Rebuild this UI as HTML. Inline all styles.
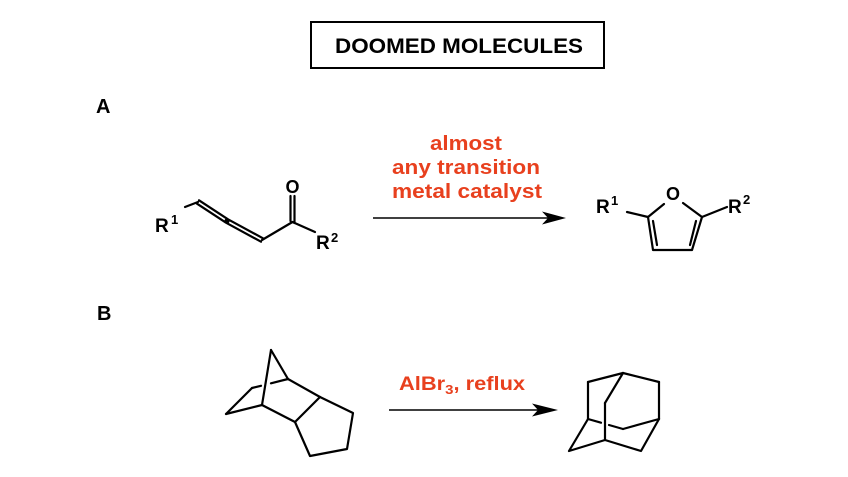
<!DOCTYPE html>
<html>
<head>
<meta charset="utf-8">
<style>
  html, body { margin:0; padding:0; background:#fff; }
  svg { display:block; }
  text { font-family: "Liberation Sans", Arial, sans-serif; font-weight: bold; }
</style>
</head>
<body>
<svg width="848" height="477" viewBox="0 0 848 477" xmlns="http://www.w3.org/2000/svg">
  <rect width="848" height="477" fill="#fff"/>

  <!-- Title box -->
  <rect x="311" y="22" width="293" height="46" fill="none" stroke="#000" stroke-width="2"/>
  <text x="335" y="53" font-size="21" textLength="248" lengthAdjust="spacingAndGlyphs" fill="#000">DOOMED MOLECULES</text>

  <!-- Section labels -->
  <text x="96" y="113" font-size="20" fill="#000">A</text>
  <text x="97" y="320" font-size="20" fill="#000">B</text>

  <g stroke="#000" stroke-width="2.2" fill="none" stroke-linecap="round" stroke-linejoin="round">
    <!-- Allenyl ketone -->
    <line x1="185" y1="207" x2="198" y2="202"/>
    <polyline points="199,200.3 228,219.3 263,238.3"/>
    <polyline points="197,203.7 226,222.7 261,241.7"/>
    <line x1="262" y1="240" x2="292.5" y2="222"/>
    <line x1="290.5" y1="196" x2="290.5" y2="221"/>
    <line x1="294.5" y1="196" x2="294.5" y2="223"/>
    <line x1="292.5" y1="222" x2="315" y2="232"/>

    <!-- Furan -->
    <line x1="627" y1="212" x2="648" y2="217"/>
    <line x1="648" y1="217" x2="664" y2="204"/>
    <line x1="683" y1="203" x2="702" y2="217"/>
    <line x1="702" y1="217" x2="727" y2="207"/>
    <polyline points="648,217 653,250 692,250 702,217"/>
    <line x1="653" y1="221" x2="657" y2="245"/>
    <line x1="690" y1="245" x2="696" y2="221"/>

    <!-- Tricyclic -->
    <line x1="271" y1="350" x2="262" y2="405"/>
    <line x1="271" y1="350" x2="288" y2="379"/>
    <line x1="288" y1="379" x2="271" y2="383.3"/>
    <line x1="261" y1="385.8" x2="252" y2="388"/>
    <line x1="252" y1="388" x2="226" y2="414"/>
    <line x1="226" y1="414" x2="262" y2="405"/>
    <line x1="262" y1="405" x2="295" y2="422"/>
    <line x1="288" y1="379" x2="320" y2="397"/>
    <line x1="320" y1="397" x2="295" y2="422"/>
    <polyline points="320,397 353,413 347,449 310,456 295,422"/>

    <!-- Adamantane -->
    <line x1="623" y1="373" x2="588" y2="382"/>
    <line x1="623" y1="373" x2="659" y2="382"/>
    <line x1="588" y1="382" x2="588" y2="419"/>
    <line x1="659" y1="382" x2="659" y2="419"/>
    <line x1="623" y1="373" x2="605" y2="403"/>
    <line x1="605" y1="403" x2="605" y2="440"/>
    <line x1="588" y1="419" x2="601" y2="422.7"/>
    <line x1="609" y1="425" x2="623" y2="429"/>
    <line x1="623" y1="429" x2="659" y2="419"/>
    <polyline points="588,419 569,451 605,440 641,451 659,419"/>
  </g>

  <!-- allene central carbon dot -->
  <circle cx="227" cy="221" r="2.6" fill="#000"/>

  <!-- Atom labels: allenyl ketone -->
  <text x="155" y="232" font-size="19" fill="#000">R</text>
  <text x="171" y="224" font-size="13" fill="#000">1</text>
  <text x="292.5" y="193" font-size="18" text-anchor="middle" fill="#000">O</text>
  <text x="316" y="249" font-size="19" fill="#000">R</text>
  <text x="331" y="242" font-size="13" fill="#000">2</text>

  <!-- Atom labels: furan -->
  <text x="596" y="213" font-size="19" fill="#000">R</text>
  <text x="611" y="205" font-size="13" fill="#000">1</text>
  <text x="673" y="200" font-size="18" text-anchor="middle" fill="#000">O</text>
  <text x="728" y="213" font-size="19" fill="#000">R</text>
  <text x="743" y="204" font-size="13" fill="#000">2</text>

  <!-- Arrow A -->
  <line x1="373" y1="218" x2="550" y2="218" stroke="#000" stroke-width="1.6"/>
  <polygon points="566,218 542,211.5 548,218 542,224.5" fill="#000"/>
  <text x="430" y="150" font-size="20" textLength="72" lengthAdjust="spacingAndGlyphs" fill="#e8401e">almost</text>
  <text x="392" y="174" font-size="20" textLength="148" lengthAdjust="spacingAndGlyphs" fill="#e8401e">any transition</text>
  <text x="392" y="198" font-size="20" textLength="150" lengthAdjust="spacingAndGlyphs" fill="#e8401e">metal catalyst</text>

  <!-- Arrow B -->
  <line x1="389" y1="410" x2="540" y2="410" stroke="#000" stroke-width="1.6"/>
  <polygon points="558,410 532,403.5 538,410 532,416.5" fill="#000"/>
  <g transform="translate(399,390) scale(1.15,1)">
    <text x="0" y="0" font-size="19" fill="#e8401e">AlBr<tspan font-size="13" dy="4">3</tspan><tspan dy="-4">, reflux</tspan></text>
  </g>
</svg>
</body>
</html>
